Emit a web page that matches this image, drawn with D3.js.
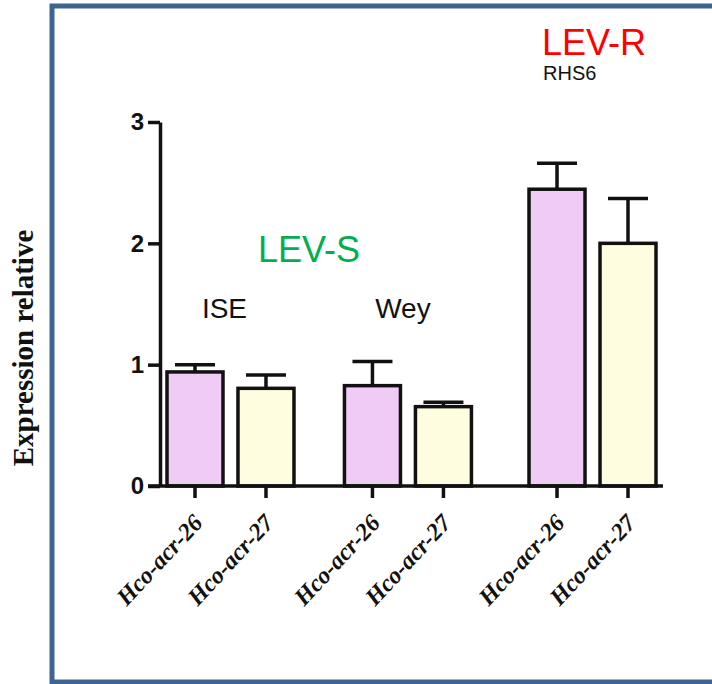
<!DOCTYPE html>
<html><head><meta charset="utf-8">
<script src="https://cdn.jsdelivr.net/npm/d3@7"></script>
<style>body{margin:0;background:#fff}svg{display:block}</style>
</head><body>
<svg id="c" width="712" height="684"></svg>
<script>
const categories = ["Hco-acr-26","Hco-acr-27","Hco-acr-26","Hco-acr-27","Hco-acr-26","Hco-acr-27"];
const isolates = ["ISE","ISE","Wey","Wey","RHS6","RHS6"];
const means = [0.94, 0.805, 0.827, 0.654, 2.446, 2.0];
const errors = [0.06, 0.11, 0.2, 0.036, 0.215, 0.37];
const yTicks = [0, 1, 2, 3];
const slots = [0, 1, 2.5, 3.5, 5.1, 6.1];
const fills = ["#EFCBF6","#FFFDE0","#EFCBF6","#FFFDE0","#EFCBF6","#FFFDE0"];

const svg = d3.select("#c");
// frame
svg.append("rect").attr("x",52).attr("y",6).attr("width",720).attr("height",676)
  .attr("fill","none").attr("stroke","#3E6492").attr("stroke-width",5);

const x = d3.scaleLinear().domain([0, 6.1]).range([195, 628]);
const y = d3.scaleLinear().domain([0, 3]).range([486, 122]);
const barW = 56, capW = 40, sw = 3.5;

// y axis
const yAxis = svg.append("g").attr("transform","translate(160,0)")
  .call(d3.axisLeft(y).tickValues(yTicks).tickSize(12).tickSizeOuter(0).tickPadding(4).tickFormat(d3.format("d")));
yAxis.select(".domain").attr("stroke","#111").attr("stroke-width",sw);
yAxis.selectAll(".tick line").attr("stroke","#111").attr("stroke-width",sw);
yAxis.selectAll(".tick text").attr("font-family","Liberation Sans, Arial, sans-serif")
  .attr("font-weight","bold").attr("font-size",24).attr("fill","#111");

// error bars
const eb = svg.append("g");
categories.forEach((c,i)=>{
  const cx = x(slots[i]);
  eb.append("line").attr("x1",cx).attr("x2",cx).attr("y1",y(means[i])).attr("y2",y(means[i]+errors[i]))
    .attr("stroke","#111").attr("stroke-width",sw);
  eb.append("line").attr("x1",cx-capW/2).attr("x2",cx+capW/2).attr("y1",y(means[i]+errors[i])).attr("y2",y(means[i]+errors[i]))
    .attr("stroke","#111").attr("stroke-width",sw);
});

// bars
svg.append("g").selectAll("rect").data(means).join("rect")
  .attr("x",(d,i)=>x(slots[i])-barW/2).attr("width",barW)
  .attr("y",d=>y(d)).attr("height",d=>y(0)-y(d))
  .attr("fill",(d,i)=>fills[i]).attr("stroke","#111").attr("stroke-width",sw);

// x axis
const xg = svg.append("g");
xg.append("line").attr("x1",148).attr("x2",x(6.1)+35).attr("y1",y(0)).attr("y2",y(0))
  .attr("stroke","#111").attr("stroke-width",sw);
categories.forEach((c,i)=>{
  const cx = x(slots[i]);
  xg.append("line").attr("x1",cx).attr("x2",cx).attr("y1",y(0)).attr("y2",y(0)+12)
    .attr("stroke","#111").attr("stroke-width",sw);
  xg.append("text").attr("transform",`translate(${cx+9},${y(0)+38}) rotate(-47)`)
    .attr("text-anchor","end").attr("font-family","Liberation Serif, Times New Roman, serif")
    .attr("font-weight","bold").attr("font-style","italic").attr("font-size",24).attr("fill","#111").text(c);
});

// y title
svg.append("text").attr("transform","translate(33,348) rotate(-90)").attr("text-anchor","middle")
  .attr("font-family","Liberation Serif, Times New Roman, serif").attr("font-weight","bold")
  .attr("font-size",29).attr("fill","#111").text("Expression relative");

// annotations
const sans = "Liberation Sans, Arial, sans-serif";
svg.append("text").attr("x",x(0.5)-6).attr("y",318).attr("text-anchor","middle").attr("font-family",sans)
  .attr("font-size",28).attr("fill","#111").text(isolates[0]);
svg.append("text").attr("x",x(3)-5).attr("y",318).attr("text-anchor","middle").attr("font-family",sans)
  .attr("font-size",28).attr("fill","#111").text(isolates[2]);
svg.append("text").attr("x",258).attr("y",262).attr("font-family",sans)
  .attr("font-size",36).attr("fill","#00B050").text("LEV-S");
svg.append("text").attr("x",542).attr("y",55).attr("font-family",sans)
  .attr("font-size",36).attr("fill","#FF0000").text("LEV-R");
svg.append("text").attr("x",543).attr("y",80).attr("font-family",sans)
  .attr("font-size",20).attr("fill","#111").text(isolates[4]);
</script>
</body></html>
